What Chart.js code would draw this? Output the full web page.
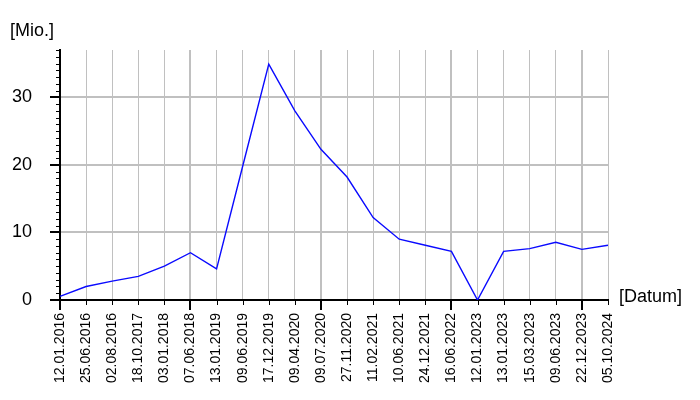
<!DOCTYPE html>
<html>
<head>
<meta charset="utf-8">
<script src="https://cdn.jsdelivr.net/npm/chart.js@4/dist/chart.umd.min.js"></script>
<style>
html,body{margin:0;padding:0;background:#fff;}
canvas{display:block;}
</style>
</head>
<body>
<canvas id="c" width="700" height="400"></canvas>
<script>
const categories = ['12.01.2016','25.06.2016','02.08.2016','18.10.2017','03.01.2018','07.06.2018','13.01.2019','09.06.2019','17.12.2019','09.04.2020','09.07.2020','27.11.2020','11.02.2021','10.06.2021','24.12.2021','16.06.2022','12.01.2023','13.01.2023','15.03.2023','09.06.2023','22.12.2023','05.10.2024'];
const values = [0.55,2.0,2.8,3.5,5.0,7.0,4.6,19.8,34.9,28.0,22.3,18.2,12.2,9.0,8.1,7.2,0,7.2,7.6,8.55,7.5,8.1];
const yTickLabels = [0,10,20,30];
const yAxisTitle = '[Mio.]';
const xAxisTitle = '[Datum]';

const FONT = "'Liberation Sans', Arial, sans-serif";

const decor = {
  id: 'decor',
  afterDraw(chart) {
    const ctx = chart.ctx;
    const xs = chart.scales.x, ys = chart.scales.y;
    const area = chart.chartArea;
    ctx.save();
    ctx.strokeStyle = '#000';
    // x ticks
    xs.ticks.forEach((t, i) => {
      const px = Math.round(xs.getPixelForTick(i));
      const major = i % 5 === 0;
      ctx.lineWidth = major ? 2 : 1;
      const x = major ? px : px + 0.5;
      ctx.beginPath();
      ctx.moveTo(x, area.bottom);
      ctx.lineTo(x, area.bottom + (major ? 10 : 5));
      ctx.stroke();
    });
    // y ticks
    for (let v = 0; v <= ys.max; v++) {
      const py = Math.round(ys.getPixelForValue(v));
      const major = v % 10 === 0;
      ctx.lineWidth = major ? 2 : 1;
      const y = major ? py : py + 0.5;
      ctx.beginPath();
      ctx.moveTo(area.left - (major ? 10 : 4), y);
      ctx.lineTo(area.left, y);
      ctx.stroke();
    }
    ctx.fillStyle = '#000';
    ctx.font = '18px ' + FONT;
    ctx.textBaseline = 'alphabetic';
    ctx.textAlign = 'left';
    ctx.fillText(yAxisTitle, 10, 35.5);
    ctx.fillText(xAxisTitle, 619, 301.5);
    ctx.restore();
  }
};

new Chart(document.getElementById('c'), {
  type: 'line',
  data: {
    labels: categories,
    datasets: [{
      data: values,
      borderColor: '#0a0aff',
      borderWidth: 1.4,
      pointRadius: 0,
      tension: 0,
      fill: false
    }]
  },
  options: {
    responsive: false,
    animation: false,
    events: [],
    layout: { padding: { top: 50, right: 92, left: 0, bottom: 0 } },
    plugins: { legend: { display: false }, tooltip: { enabled: false }, title: { display: false } },
    scales: {
      x: {
        type: 'category',
        offset: false,
        afterFit(s) { s.height = 100; },
        grid: {
          color: '#c0c0c0',
          lineWidth: c => (c.index % 5 === 0 ? 2 : 1),
          drawTicks: false
        },
        border: { display: true, color: '#000', width: 2 },
        ticks: {
          autoSkip: false,
          minRotation: 90,
          maxRotation: 90,
          padding: 13,
          color: '#000',
          font: { family: FONT, size: 14 }
        }
      },
      y: {
        min: 0,
        max: 37,
        afterFit(s) { s.width = 60; },
        grid: {
          color: c => (c.tick && c.tick.value > 0 && c.tick.value % 10 === 0 ? '#c0c0c0' : 'rgba(0,0,0,0)'),
          lineWidth: 2,
          drawTicks: false
        },
        border: { display: true, color: '#000', width: 2 },
        ticks: {
          stepSize: 1,
          autoSkip: false,
          padding: 28,
          color: '#000',
          font: { family: FONT, size: 18 },
          callback: v => (yTickLabels.includes(v) ? String(v) : '')
        }
      }
    }
  },
  plugins: [decor]
});
</script>
</body>
</html>
